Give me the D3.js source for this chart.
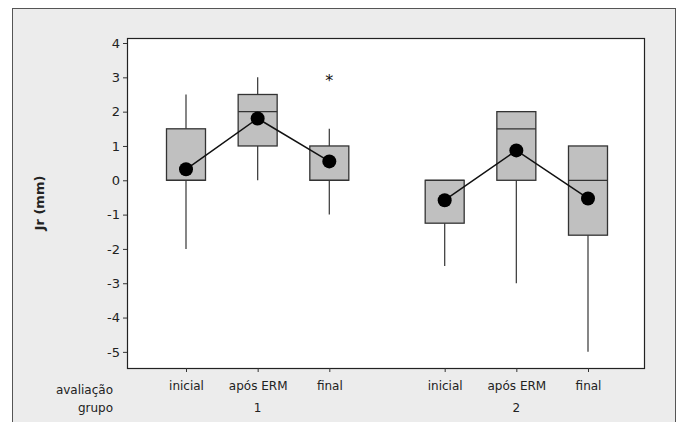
<!DOCTYPE html>
<html>
<head>
<meta charset="utf-8">
<script src="https://cdn.jsdelivr.net/npm/d3@7"></script>
<style>
  body { margin: 0; background: #fff; }
  text { font-family: "DejaVu Sans", sans-serif; }
</style>
</head>
<body>
<div id="vis"></div>
<script>
// data
const groups = ["1", "2"];
const evaluations = ["inicial", "após ERM", "final"];
const q1 =      [0,    1,   0,   -1.25, 0,   -1.6];
const median =  [0,    2,   0,    0,    1.5,  0];
const q3 =      [1.5,  2.5, 1,    0,    2,    1];
const whiskLo = [-2,   0,  -1,   -2.5, -3,   -5];
const whiskHi = [2.5,  3,   1.5,  0,    2,    1];
const means =   [0.32, 1.8, 0.55, -0.58, 0.87, -0.53];
const outliers = [{box: 2, value: 3}];
const yTicks = [4, 3, 2, 1, 0, -1, -2, -3, -4, -5];

const svg = d3.select("#vis")
    .append("svg")
    .attr("width", 682)
    .attr("height", 422);

// panel background
svg.append("rect")
    .attr("x", 12.5).attr("y", 8.5)
    .attr("width", 663).attr("height", 420)
    .attr("fill", "#ececec")
    .attr("stroke", "#555");

const plot = {left: 127, top: 38, right: 644, bottom: 368};

svg.append("rect")
    .attr("x", plot.left + 0.5).attr("y", plot.top + 0.5)
    .attr("width", plot.right - plot.left).attr("height", plot.bottom - plot.top)
    .attr("fill", "#fff")
    .attr("stroke", "#222")
    .attr("stroke-width", 1.2);

const y = d3.scaleLinear()
    .domain([-5.47, 4.146])
    .range([plot.bottom, plot.top]);

// boxes: 3 per group, with a gap between groups
const slots = [0, 1, 2, 3.61, 4.61, 5.61];
const x = d3.scaleLinear()
    .domain([0, 5.61])
    .range([186, 588]);

const boxW = 39;

const yAxis = svg.append("g")
    .attr("transform", `translate(${plot.left},0)`)
    .call(d3.axisLeft(y).tickValues(yTicks).tickSize(4).tickPadding(3).tickFormat(d => String(d)));
yAxis.select(".domain").remove();
yAxis.selectAll("line").attr("stroke", "#333");
yAxis.selectAll("text").attr("font-size", 13).attr("fill", "#222").attr("font-family", "DejaVu Sans");

const xAxis = svg.append("g")
    .attr("transform", `translate(0,${plot.bottom})`)
    .call(d3.axisBottom(x).tickValues(slots).tickSize(4).tickFormat((d, i) => evaluations[i % 3]).tickPadding(9));
xAxis.select(".domain").remove();
xAxis.selectAll("line").attr("stroke", "#333");
xAxis.selectAll("text").attr("font-size", 12).attr("fill", "#222").attr("font-family", "DejaVu Sans");

svg.append("text")
    .attr("x", 113).attr("y", 394)
    .attr("text-anchor", "end")
    .attr("font-size", 12).attr("fill", "#222")
    .text("avaliação");
svg.append("text")
    .attr("x", 113).attr("y", 412)
    .attr("text-anchor", "end")
    .attr("font-size", 12).attr("fill", "#222")
    .text("grupo");

svg.selectAll(".grp")
    .data(groups)
    .enter()
    .append("text")
    .attr("x", (d, i) => x(slots[i * 3 + 1]))
    .attr("y", 412)
    .attr("text-anchor", "middle")
    .attr("font-size", 12).attr("fill", "#222")
    .text(d => d);

svg.append("text")
    .attr("transform", `translate(44,${(plot.top + plot.bottom) / 2}) rotate(-90)`)
    .attr("text-anchor", "middle")
    .attr("font-size", 13)
    .attr("font-weight", "bold")
    .attr("fill", "#222")
    .text("Jr (mm)");

const boxes = svg.append("g");
slots.forEach((s, i) => {
    const cx = x(s);
    // whiskers
    boxes.append("line")
        .attr("x1", cx).attr("x2", cx)
        .attr("y1", y(whiskHi[i])).attr("y2", y(q3[i]))
        .attr("stroke", "#444").attr("stroke-width", 1.3);
    boxes.append("line")
        .attr("x1", cx).attr("x2", cx)
        .attr("y1", y(q1[i])).attr("y2", y(whiskLo[i]))
        .attr("stroke", "#444").attr("stroke-width", 1.3);
    boxes.append("rect")
        .attr("x", cx - boxW / 2).attr("y", y(q3[i]))
        .attr("width", boxW).attr("height", y(q1[i]) - y(q3[i]))
        .attr("fill", "#c0c0c0")
        .attr("stroke", "#333").attr("stroke-width", 1.3);
    boxes.append("line")
        .attr("x1", cx - boxW / 2).attr("x2", cx + boxW / 2)
        .attr("y1", y(median[i])).attr("y2", y(median[i]))
        .attr("stroke", "#333").attr("stroke-width", 1.3);
});

svg.selectAll(".outlier")
    .data(outliers)
    .enter()
    .append("text")
    .attr("x", d => x(slots[d.box]))
    .attr("y", d => y(d.value) + 9)
    .attr("text-anchor", "middle")
    .attr("font-size", 16)
    .attr("fill", "#111")
    .text("*");

const line = d3.line()
    .x(d => x(d[0]))
    .y(d => y(d[1]));

groups.forEach((g, gi) => {
    const pts = [0, 1, 2].map(k => [slots[gi * 3 + k], means[gi * 3 + k]]);
    svg.append("path")
        .attr("d", line(pts))
        .attr("fill", "none")
        .attr("stroke", "#111")
        .attr("stroke-width", 1.5);
});

svg.selectAll(".mean")
    .data(means)
    .enter()
    .append("circle")
    .attr("cx", (d, i) => x(slots[i]))
    .attr("cy", d => y(d))
    .attr("r", 7)
    .attr("fill", "#000");
</script>
</body>
</html>
